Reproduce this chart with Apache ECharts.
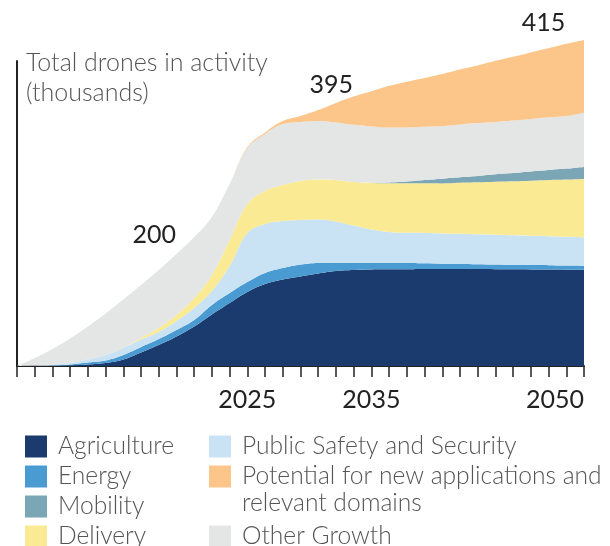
<!DOCTYPE html>
<html>
<head>
<meta charset="utf-8">
<script src="https://cdn.jsdelivr.net/npm/echarts@6/dist/echarts.min.js"></script>
<style>
  html, body { margin: 0; padding: 0; background: #fff; }
  #chart { width: 610px; height: 546px; }
</style>
</head>
<body>
<div id="chart"></div>
<script>
// Tick labels (33 ticks on the x axis)
const tickLabels = ['', '', '', '', '', '', '', '', '', '', '', '', '', '2025', '', '', '', '', '', '', '2035', '', '', '', '', '', '', '', '', '', '', '', '2050'];
const categories = ['t0', 't1', 't2', 't3', 't4', 't5', 't6', 't7', 't8', 't9', 't10', 't11', 't12', 't13', 't14', 't15', 't16', 't17', 't18', 't19', 't20', 't21', 't22', 't23', 't24', 't25', 't26', 't27', 't28', 't29', 't30', 't31', 't32'];

// Series values (thousands), bottom to top of the stack
const agriculture = [0, 0, 0, 0.6, 1.9, 3.8, 8.3, 17.2, 26.7, 37.5, 50.2, 65.5, 80.1, 94.1, 104.3, 110.0, 113.9, 117.7, 120.9, 122.1, 122.8, 123.0, 123.1, 123.4, 123.4, 123.4, 123.3, 123.1, 123.0, 122.9, 122.8, 122.6, 122.5];
const energy = [0, 0, 0.6, 1.3, 2.5, 3.2, 5.7, 7.0, 7.6, 8.3, 8.3, 12.1, 12.7, 12.7, 14.0, 14.6, 15.3, 13.4, 10.6, 9.3, 8.7, 8.4, 7.9, 7.3, 6.7, 6.4, 6.2, 6.0, 5.7, 5.6, 5.5, 5.2, 5.1];
const publicSafety = [0, 0.6, 1.3, 1.9, 3.8, 7.0, 8.9, 9.5, 8.9, 11.4, 15.3, 17.8, 34.3, 62.3, 62.3, 59.8, 56.6, 55.3, 52.4, 47.3, 42.2, 39.1, 38.4, 38.5, 38.5, 38.4, 38.0, 37.8, 37.5, 37.1, 36.8, 36.5, 36.1];
const delivery = [0, 0, 0, 0, 0, 0, 0, 1.9, 5.1, 7.6, 12.7, 20.4, 33.1, 36.9, 42.0, 45.8, 49.6, 50.9, 52.8, 55.3, 59.2, 62.0, 63.0, 63.2, 63.7, 64.9, 66.1, 67.6, 68.8, 70.2, 71.5, 72.9, 74.2];
const mobility = [0, 0, 0, 0, 0, 0, 0, 0, 0, 0, 0, 0, 0, 0, 0, 0, 0, 0, 0, 0, 0, 1.0, 2.3, 4.2, 6.0, 7.0, 8.1, 9.3, 10.4, 11.6, 12.7, 13.9, 15.3];
const otherGrowth = [0, 9.5, 19.7, 31.2, 42.0, 52.8, 61.7, 67.4, 73.8, 77.6, 77.6, 73.8, 71.2, 71.2, 72.5, 77.6, 75.1, 74.4, 73.2, 72.9, 71.9, 69.8, 68.7, 67.7, 67.0, 67.2, 67.3, 66.7, 66.8, 66.8, 67.0, 67.0, 69.1];
const potential = [0, 0, 0, 0, 0, 0, 0, 0, 0, 0, 0, 0, 0, 1.3, 1.9, 3.8, 7.6, 14.0, 24.8, 35.9, 44.6, 53.1, 58.3, 62.1, 66.2, 70.0, 73.3, 77.7, 81.1, 84.7, 87.8, 91.7, 92.5];

// Names
const names = {
  agriculture: 'Agriculture',
  energy: 'Energy',
  mobility: 'Mobility',
  delivery: 'Delivery',
  publicSafety: 'Public Safety and Security',
  potential: 'Potential for new applications and',
  otherGrowth: 'Other Growth'
};
const totalLabels = ['200', '395', '415'];

const FONT = 'Lato, "Open Sans", sans-serif';
const colors = {
  agriculture: '#1b3b6f',
  energy: '#4b9bd3',
  publicSafety: '#c9e3f5',
  delivery: '#f9ea93',
  mobility: '#7aa6b6',
  otherGrowth: '#e4e5e5',
  potential: '#fcc68b'
};

function areaSeries(key, data, extra) {
  return Object.assign({
    name: names[key],
    type: 'line',
    stack: 'total',
    smooth: 0.4,
    showSymbol: false,
    symbol: 'none',
    clip: false,
    lineStyle: { width: 0 },
    areaStyle: { color: colors[key], opacity: 1 },
    itemStyle: { color: colors[key] },
    emphasis: { disabled: true },
    data: data
  }, extra || {});
}

const chart = echarts.init(document.getElementById('chart'), null, { renderer: 'canvas' });

const legendText = { fontSize: 24.6, fontWeight: 300, color: '#555', fontFamily: FONT, lineHeight: 22, padding: [0, 0, 0, 6] };
const legendBase = {
  orient: 'vertical', itemWidth: 22, itemHeight: 22, itemGap: 5, padding: 0, height: 140,
  icon: 'rect', selectedMode: false, textStyle: legendText
};

const option = {
  animation: false,
  backgroundColor: '#fff',
  title: {
    text: 'Total drones in activity\n(thousands)',
    left: 26,
    top: 48,
    padding: 0,
    textStyle: { fontSize: 25, fontWeight: 300, color: '#555', fontFamily: FONT, lineHeight: 30 }
  },
  grid: { left: 17, right: 26, top: 61, bottom: 180, containLabel: false },
  xAxis: {
    type: 'category',
    boundaryGap: false,
    data: categories,
    axisLine: { show: true, lineStyle: { color: '#222', width: 2 } },
    axisTick: { show: true, length: 11, interval: 0, lineStyle: { color: '#222', width: 1.5 } },
    splitLine: { show: false },
    axisLabel: {
      show: true,
      interval: 0,
      margin: 21,
      fontSize: 25,
      color: '#222',
      fontFamily: FONT,
      alignMaxLabel: 'right',
      formatter: (v, i) => tickLabels[i] || ''
    }
  },
  yAxis: {
    type: 'value',
    min: 0,
    max: 388,
    axisLine: { show: true, onZero: true, lineStyle: { color: '#222', width: 2 } },
    axisTick: { show: false },
    axisLabel: { show: false },
    splitLine: { show: false }
  },
  legend: [
    Object.assign({}, legendBase, {
      left: 25, top: 434,
      data: [names.agriculture, names.energy, names.mobility, names.delivery]
    }),
    Object.assign({}, legendBase, {
      left: 209, top: 434,
      data: [names.publicSafety, names.potential]
    }),
    Object.assign({}, legendBase, {
      left: 209, top: 524, height: 30,
      data: [names.otherGrowth]
    })
  ],
  graphic: [
    {
      type: 'text', left: 242, top: 491,
      style: { text: 'relevant domains', fontSize: 24.6, fontWeight: 300, fill: '#555', fontFamily: FONT }
    }
  ],
  series: [
    areaSeries('agriculture', agriculture),
    areaSeries('energy', energy),
    areaSeries('publicSafety', publicSafety),
    areaSeries('delivery', delivery),
    areaSeries('mobility', mobility),
    areaSeries('otherGrowth', otherGrowth),
    areaSeries('potential', potential, {
      markPoint: {
        symbol: 'rect',
        symbolSize: 1,
        itemStyle: { color: 'rgba(0,0,0,0)' },
        label: {
          show: true, position: 'inside', fontSize: 25, color: '#222', fontFamily: FONT,
          formatter: (p) => p.name
        },
        data: [
          { name: totalLabels[0], coord: [8, 166.8], label: { offset: [-4.5, 0] } },
          { name: totalLabels[1], coord: [18, 357.7], label: { offset: [-4.6, 0] } },
          { name: totalLabels[2], coord: [30, 380], label: { offset: [-5, -44.5] } }
        ]
      }
    })
  ]
};

chart.setOption(option);
</script>
</body>
</html>
